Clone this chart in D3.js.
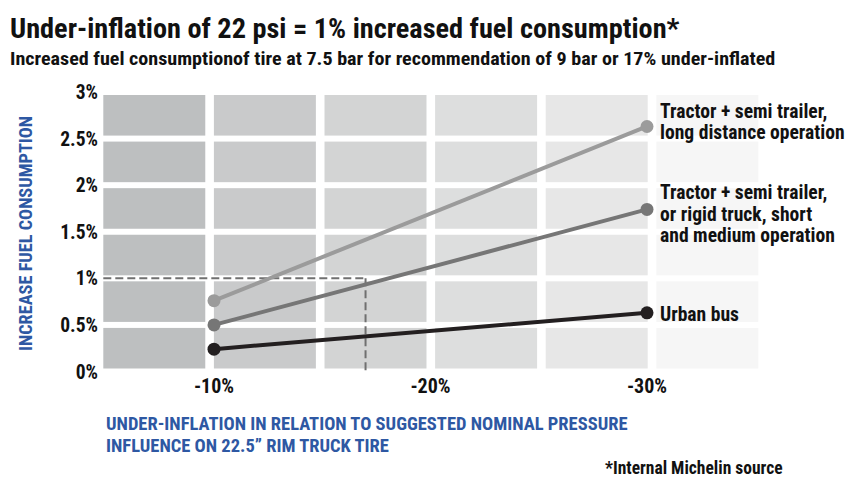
<!DOCTYPE html>
<html><head><meta charset="utf-8">
<script src="https://cdn.jsdelivr.net/npm/d3@7"></script>
<style>
html,body{margin:0;padding:0;background:#fff;}
svg{display:block;}
text{font-family:"Liberation Sans Narrow","Arial Narrow","Roboto Condensed","Liberation Sans",Arial,sans-serif;}
</style></head>
<body>
<svg id="chart" width="866" height="486"></svg>
<script>
// ---- data ----
const title = "Under-inflation of 22 psi = 1% increased fuel consumption*";
const subtitle = "Increased fuel consumptionof tire at 7.5 bar for recommendation of 9 bar or 17% under-inflated";
const underInflation = [-10, -30];
const seriesNames = [
  ["Tractor + semi trailer,", "long distance operation"],
  ["Tractor + semi trailer,", "or rigid truck, short", "and medium operation"],
  ["Urban bus"]
];
const longDistance = [0.76, 2.63];
const shortMedium = [0.50, 1.74];
const urbanBus = [0.24, 0.63];
const yTicks = [0, 0.5, 1, 1.5, 2, 2.5, 3];
const yTickLabels = ["0%", "0.5%", "1%", "1.5%", "2%", "2.5%", "3%"];
const xTicks = [-10, -20, -30];
const xTickLabels = ["-10%", "-20%", "-30%"];
const refPoint = {x: -17, y: 1};
const columnShades = ["#bdbfc0", "#c9cacb", "#d3d4d4", "#dddede", "#e7e7e7", "#f6f6f6"];
const seriesColors = ["#9b9b9b", "#767676", "#231f20"];
const yAxisTitle = "INCREASE FUEL CONSUMPTION";
const xAxisTitle = ["UNDER-INFLATION IN RELATION TO SUGGESTED NOMINAL PRESSURE", "INFLUENCE ON 22.5\u201D RIM TRUCK TIRE"];
const footnote = "*Internal Michelin source";

const series = [longDistance, shortMedium, urbanBus];

// ---- layout ----
const svg = d3.select("#chart");
const x = d3.scaleLinear().domain([-10, -30]).range([214, 647]);
const y = d3.scaleLinear().domain([0, 3]).range([371.5, 92]);
const cols = d3.scaleBand().domain(d3.range(columnShades.length)).range([103.3, 758.3]).paddingInner(0.078).paddingOuter(0);
const rowStarts = yTicks.slice(0, -1);

// background cells
const g = svg.append("g");
columnShades.forEach((c, i) => {
  g.selectAll(null).data(rowStarts).enter().append("rect")
    .attr("x", cols(i)).attr("width", cols.bandwidth())
    .attr("y", d => y(d + 0.5) + 3)
    .attr("height", d => (y(d) - 3) - (y(d + 0.5) + 3))
    .attr("fill", c);
});

// reference dashed lines
const dash = svg.append("g").attr("stroke", "#707070").attr("stroke-width", 2).attr("stroke-dasharray", "8,4").attr("fill", "none");
dash.append("line").attr("x1", cols(0)).attr("x2", x(refPoint.x)).attr("y1", y(refPoint.y)).attr("y2", y(refPoint.y));
dash.append("line").attr("x1", x(refPoint.x)).attr("x2", x(refPoint.x)).attr("y1", y(refPoint.y)).attr("y2", y(0) - 1);

// lines
const line = d3.line().x((d, i) => x(underInflation[i])).y(d => y(d));
series.forEach((s, k) => {
  svg.append("path").datum(s).attr("d", line).attr("fill", "none")
    .attr("stroke", seriesColors[k]).attr("stroke-width", 4);
  svg.selectAll(null).data(s).enter().append("circle")
    .attr("cx", (d, i) => x(underInflation[i])).attr("cy", d => y(d)).attr("r", 6.5)
    .attr("fill", seriesColors[k]);
});

// series labels
const labelTop = [117.9, 199.3, 321];
seriesNames.forEach((lines, k) => {
  const t = svg.append("text").attr("x", 660).attr("y", labelTop[k])
    .attr("font-size", 19.6).attr("font-weight", "bold").attr("fill", "#111");
  lines.forEach((ln, j) => t.append("tspan").attr("x", 660).attr("dy", j === 0 ? 0 : 21.5).text(ln));
});

// y tick labels
svg.selectAll(null).data(yTicks).enter().append("text")
  .attr("x", 98).attr("y", d => y(d) + 7)
  .attr("text-anchor", "end").attr("font-size", 19.5).attr("font-weight", "bold").attr("fill", "#111")
  .text((d, i) => yTickLabels[i]);

// x tick labels
svg.selectAll(null).data(xTicks).enter().append("text")
  .attr("x", d => x(d)).attr("y", 393)
  .attr("text-anchor", "middle").attr("font-size", 20).attr("font-weight", "bold").attr("fill", "#111")
  .text((d, i) => xTickLabels[i]);

// y axis title
svg.append("text").attr("transform", "translate(31.5,233.5) rotate(-90)")
  .attr("text-anchor", "middle").attr("font-size", 18.3).attr("font-weight", "bold").attr("fill", "#2e58a3")
  .text(yAxisTitle);

// x axis title
xAxisTitle.forEach((ln, j) => {
  svg.append("text").attr("x", 106).attr("y", 430 + j * 22)
    .attr("font-size", 18.5).attr("font-weight", "bold").attr("fill", "#2e58a3").text(ln);
});

// footnote
svg.append("text").attr("x", 605).attr("y", 474).attr("font-size", 17.5).attr("font-weight", "bold").attr("fill", "#111").text(footnote);

// titles
svg.append("text").attr("x", 10).attr("y", 38).attr("font-size", 28.3).attr("font-weight", "bold").attr("fill", "#111").text(title);
svg.append("text").attr("transform", "translate(10,65) scale(1.08,1)").attr("font-size", 18.6).attr("font-weight", "bold").attr("fill", "#111").text(subtitle);
</script>
</body></html>
